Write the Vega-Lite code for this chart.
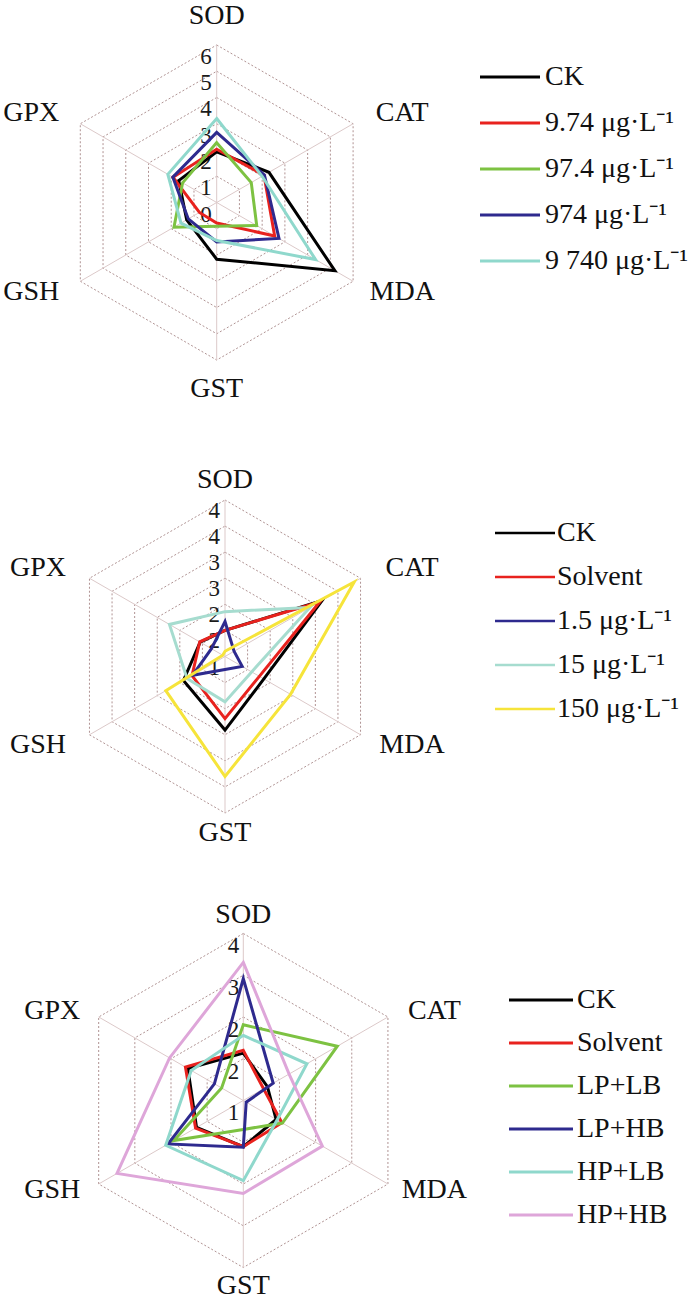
{
 "$schema": "https://vega.github.io/schema/vega-lite/v6.json",
 "background": "white",
 "padding": 0,
 "spacing": 0,
 "bounds": "flush",
 "config": {"view": {"stroke": null}, "font": "Liberation Serif", "text": {"font": "Liberation Serif"}, "legend": {"labelFont": "Liberation Serif"}},
 "datasets": {
  "axes": [{"a": "SOD"}, {"a": "CAT"}, {"a": "MDA"}, {"a": "GST"}, {"a": "GSH"}, {"a": "GPX"}],
  "rings": [
   {"p": "a", "level": 1, "axes": ["SOD","CAT","MDA","GST","GSH","GPX"]},
   {"p": "a", "level": 2, "axes": ["SOD","CAT","MDA","GST","GSH","GPX"]},
   {"p": "a", "level": 3, "axes": ["SOD","CAT","MDA","GST","GSH","GPX"]},
   {"p": "a", "level": 4, "axes": ["SOD","CAT","MDA","GST","GSH","GPX"]},
   {"p": "a", "level": 5, "axes": ["SOD","CAT","MDA","GST","GSH","GPX"]},
   {"p": "a", "level": 6, "axes": ["SOD","CAT","MDA","GST","GSH","GPX"]},
   {"p": "b", "level": 1.5, "axes": ["SOD","CAT","MDA","GST","GSH","GPX"]},
   {"p": "b", "level": 2, "axes": ["SOD","CAT","MDA","GST","GSH","GPX"]},
   {"p": "b", "level": 2.5, "axes": ["SOD","CAT","MDA","GST","GSH","GPX"]},
   {"p": "b", "level": 3, "axes": ["SOD","CAT","MDA","GST","GSH","GPX"]},
   {"p": "b", "level": 3.5, "axes": ["SOD","CAT","MDA","GST","GSH","GPX"]},
   {"p": "b", "level": 4, "axes": ["SOD","CAT","MDA","GST","GSH","GPX"]},
   {"p": "c", "level": 1.75, "axes": ["SOD","CAT","MDA","GST","GSH","GPX"]},
   {"p": "c", "level": 2.5, "axes": ["SOD","CAT","MDA","GST","GSH","GPX"]},
   {"p": "c", "level": 3.25, "axes": ["SOD","CAT","MDA","GST","GSH","GPX"]},
   {"p": "c", "level": 4, "axes": ["SOD","CAT","MDA","GST","GSH","GPX"]}
  ],
  "ticks": [
   {"p": "a", "level": 0, "label": "0"}, {"p": "a", "level": 1, "label": "1"}, {"p": "a", "level": 2, "label": "2"},
   {"p": "a", "level": 3, "label": "3"}, {"p": "a", "level": 4, "label": "4"}, {"p": "a", "level": 5, "label": "5"},
   {"p": "a", "level": 6, "label": "6"},
   {"p": "b", "level": 1, "label": "1"}, {"p": "b", "level": 1.5, "label": "2"}, {"p": "b", "level": 2, "label": "2"},
   {"p": "b", "level": 2.5, "label": "3"}, {"p": "b", "level": 3, "label": "3"}, {"p": "b", "level": 3.5, "label": "4"},
   {"p": "b", "level": 4, "label": "4"},
   {"p": "c", "level": 1, "label": "1"}, {"p": "c", "level": 1.75, "label": "2"}, {"p": "c", "level": 2.5, "label": "2"},
   {"p": "c", "level": 3.25, "label": "3"}, {"p": "c", "level": 4, "label": "4"}
  ],
  "series": [
   {"p": "a", "s": "CK", "a": "SOD", "v": 1.93}, {"p": "a", "s": "CK", "a": "CAT", "v": 2.3}, {"p": "a", "s": "CK", "a": "MDA", "v": 5.2},
   {"p": "a", "s": "CK", "a": "GST", "v": 2.16}, {"p": "a", "s": "CK", "a": "GSH", "v": 1.32}, {"p": "a", "s": "CK", "a": "GPX", "v": 1.67},
   {"p": "a", "s": "9.74 μg·L⁻¹", "a": "SOD", "v": 2.03}, {"p": "a", "s": "9.74 μg·L⁻¹", "a": "CAT", "v": 2.08}, {"p": "a", "s": "9.74 μg·L⁻¹", "a": "MDA", "v": 2.55},
   {"p": "a", "s": "9.74 μg·L⁻¹", "a": "GST", "v": 0.78}, {"p": "a", "s": "9.74 μg·L⁻¹", "a": "GSH", "v": 0.76}, {"p": "a", "s": "9.74 μg·L⁻¹", "a": "GPX", "v": 1.92},
   {"p": "a", "s": "97.4 μg·L⁻¹", "a": "SOD", "v": 2.28}, {"p": "a", "s": "97.4 μg·L⁻¹", "a": "CAT", "v": 1.52}, {"p": "a", "s": "97.4 μg·L⁻¹", "a": "MDA", "v": 1.76},
   {"p": "a", "s": "97.4 μg·L⁻¹", "a": "GST", "v": 0.9}, {"p": "a", "s": "97.4 μg·L⁻¹", "a": "GSH", "v": 1.88}, {"p": "a", "s": "97.4 μg·L⁻¹", "a": "GPX", "v": 1.5},
   {"p": "a", "s": "974 μg·L⁻¹", "a": "SOD", "v": 2.67}, {"p": "a", "s": "974 μg·L⁻¹", "a": "CAT", "v": 2.1}, {"p": "a", "s": "974 μg·L⁻¹", "a": "MDA", "v": 2.74},
   {"p": "a", "s": "974 μg·L⁻¹", "a": "GST", "v": 1.5}, {"p": "a", "s": "974 μg·L⁻¹", "a": "GSH", "v": 1.25}, {"p": "a", "s": "974 μg·L⁻¹", "a": "GPX", "v": 1.93},
   {"p": "a", "s": "9 740 μg·L⁻¹", "a": "SOD", "v": 3.2}, {"p": "a", "s": "9 740 μg·L⁻¹", "a": "CAT", "v": 2.0}, {"p": "a", "s": "9 740 μg·L⁻¹", "a": "MDA", "v": 4.35},
   {"p": "a", "s": "9 740 μg·L⁻¹", "a": "GST", "v": 1.45}, {"p": "a", "s": "9 740 μg·L⁻¹", "a": "GSH", "v": 1.57}, {"p": "a", "s": "9 740 μg·L⁻¹", "a": "GPX", "v": 2.15},

   {"p": "b", "s": "CK", "a": "SOD", "v": 1.5}, {"p": "b", "s": "CK", "a": "CAT", "v": 3.15}, {"p": "b", "s": "CK", "a": "MDA", "v": 1.86},
   {"p": "b", "s": "CK", "a": "GST", "v": 2.41}, {"p": "b", "s": "CK", "a": "GSH", "v": 1.92}, {"p": "b", "s": "CK", "a": "GPX", "v": 1.55},
   {"p": "b", "s": "Solvent", "a": "SOD", "v": 1.5}, {"p": "b", "s": "Solvent", "a": "CAT", "v": 3.1}, {"p": "b", "s": "Solvent", "a": "MDA", "v": 1.76},
   {"p": "b", "s": "Solvent", "a": "GST", "v": 2.19}, {"p": "b", "s": "Solvent", "a": "GSH", "v": 1.73}, {"p": "b", "s": "Solvent", "a": "GPX", "v": 1.56},
   {"p": "b", "s": "1.5 μg·L⁻¹", "a": "SOD", "v": 1.67}, {"p": "b", "s": "1.5 μg·L⁻¹", "a": "CAT", "v": 1.2}, {"p": "b", "s": "1.5 μg·L⁻¹", "a": "MDA", "v": 1.38},
   {"p": "b", "s": "1.5 μg·L⁻¹", "a": "GST", "v": 1.25}, {"p": "b", "s": "1.5 μg·L⁻¹", "a": "GSH", "v": 1.72}, {"p": "b", "s": "1.5 μg·L⁻¹", "a": "GPX", "v": 1.3},
   {"p": "b", "s": "15 μg·L⁻¹", "a": "SOD", "v": 1.86}, {"p": "b", "s": "15 μg·L⁻¹", "a": "CAT", "v": 2.88}, {"p": "b", "s": "15 μg·L⁻¹", "a": "MDA", "v": 1.59},
   {"p": "b", "s": "15 μg·L⁻¹", "a": "GST", "v": 1.87}, {"p": "b", "s": "15 μg·L⁻¹", "a": "GSH", "v": 1.84}, {"p": "b", "s": "15 μg·L⁻¹", "a": "GPX", "v": 2.23},
   {"p": "b", "s": "150 μg·L⁻¹", "a": "SOD", "v": 1.1}, {"p": "b", "s": "150 μg·L⁻¹", "a": "CAT", "v": 3.86}, {"p": "b", "s": "150 μg·L⁻¹", "a": "MDA", "v": 2.45},
   {"p": "b", "s": "150 μg·L⁻¹", "a": "GST", "v": 3.3}, {"p": "b", "s": "150 μg·L⁻¹", "a": "GSH", "v": 2.31}, {"p": "b", "s": "150 μg·L⁻¹", "a": "GPX", "v": 1.05},

   {"p": "c", "s": "CK", "a": "SOD", "v": 1.85}, {"p": "c", "s": "CK", "a": "CAT", "v": 1.5}, {"p": "c", "s": "CK", "a": "MDA", "v": 1.68},
   {"p": "c", "s": "CK", "a": "GST", "v": 1.83}, {"p": "c", "s": "CK", "a": "GSH", "v": 1.97}, {"p": "c", "s": "CK", "a": "GPX", "v": 2.15},
   {"p": "c", "s": "Solvent", "a": "SOD", "v": 1.9}, {"p": "c", "s": "Solvent", "a": "CAT", "v": 1.42}, {"p": "c", "s": "Solvent", "a": "MDA", "v": 1.8},
   {"p": "c", "s": "Solvent", "a": "GST", "v": 1.83}, {"p": "c", "s": "Solvent", "a": "GSH", "v": 1.99}, {"p": "c", "s": "Solvent", "a": "GPX", "v": 2.2},
   {"p": "c", "s": "LP+LB", "a": "SOD", "v": 2.36}, {"p": "c", "s": "LP+LB", "a": "CAT", "v": 2.95}, {"p": "c", "s": "LP+LB", "a": "MDA", "v": 1.81},
   {"p": "c", "s": "LP+LB", "a": "GST", "v": 1.52}, {"p": "c", "s": "LP+LB", "a": "GSH", "v": 2.44}, {"p": "c", "s": "LP+LB", "a": "GPX", "v": 1.45},
   {"p": "c", "s": "LP+HB", "a": "SOD", "v": 3.19}, {"p": "c", "s": "LP+HB", "a": "CAT", "v": 1.62}, {"p": "c", "s": "LP+HB", "a": "MDA", "v": 1.06},
   {"p": "c", "s": "LP+HB", "a": "GST", "v": 1.84}, {"p": "c", "s": "LP+HB", "a": "GSH", "v": 2.56}, {"p": "c", "s": "LP+HB", "a": "GPX", "v": 1.6},
   {"p": "c", "s": "HP+LB", "a": "SOD", "v": 2.17}, {"p": "c", "s": "HP+LB", "a": "CAT", "v": 2.32}, {"p": "c", "s": "HP+LB", "a": "MDA", "v": 1.7},
   {"p": "c", "s": "HP+LB", "a": "GST", "v": 2.44}, {"p": "c", "s": "HP+LB", "a": "GSH", "v": 2.61}, {"p": "c", "s": "HP+LB", "a": "GPX", "v": 2.08},
   {"p": "c", "s": "HP+HB", "a": "SOD", "v": 3.48}, {"p": "c", "s": "HP+HB", "a": "CAT", "v": 1.95}, {"p": "c", "s": "HP+HB", "a": "MDA", "v": 2.64},
   {"p": "c", "s": "HP+HB", "a": "GST", "v": 2.67}, {"p": "c", "s": "HP+HB", "a": "GSH", "v": 3.62}, {"p": "c", "s": "HP+HB", "a": "GPX", "v": 2.53}
  ]
 },
 "resolve": {"scale": {"x": "independent", "y": "independent", "color": "independent"}, "legend": {"color": "independent"}},
 "vconcat": [
  {
   "width": 700, "height": 430,
   "encoding": {
    "x": {"field": "x", "type": "quantitative", "scale": {"domain": [-1.3759, 3.0686], "nice": false, "zero": false}, "axis": null},
    "y": {"field": "y", "type": "quantitative", "scale": {"domain": [-1.4444, 1.2857], "nice": false, "zero": false}, "axis": null}
   },
   "layer": [
    {"data": {"name": "rings"},
     "transform": [{"filter": "datum.p === 'a'"}, {"flatten": ["axes"], "as": ["a"]},
      {"calculate": "indexof(['SOD','CAT','MDA','GST','GSH','GPX'], datum.a)", "as": "idx"},
      {"calculate": "datum.level/6", "as": "r"},
      {"calculate": "datum.r*sin(datum.idx*PI/3)", "as": "x"}, {"calculate": "datum.r*cos(datum.idx*PI/3)", "as": "y"}],
     "mark": {"type": "line", "interpolate": "linear-closed", "stroke": "#b09393", "strokeWidth": 1, "strokeDash": [2, 2]},
     "encoding": {"detail": {"field": "level"}, "order": {"field": "idx"}}},
    {"data": {"name": "axes"},
     "transform": [{"calculate": "indexof(['SOD','CAT','MDA','GST','GSH','GPX'], datum.a)", "as": "idx"},
      {"calculate": "sin(datum.idx*PI/3)", "as": "x"}, {"calculate": "cos(datum.idx*PI/3)", "as": "y"}],
     "mark": {"type": "rule", "stroke": "#dcc9c9", "strokeWidth": 1},
     "encoding": {"x2": {"datum": 0}, "y2": {"datum": 0}}},
    {"data": {"name": "ticks"},
     "transform": [{"filter": "datum.p === 'a'"}, {"calculate": "0", "as": "x"}, {"calculate": "datum.level/6", "as": "y"}],
     "mark": {"type": "text", "font": "Liberation Serif", "align": "right", "baseline": "alphabetic", "dx": -5, "dy": 19, "fontSize": 23, "color": "#1a1a1a"},
     "encoding": {"text": {"field": "label"}}},
    {"data": {"name": "axes"},
     "transform": [{"calculate": "indexof(['SOD','CAT','MDA','GST','GSH','GPX'], datum.a)", "as": "idx"},
      {"calculate": "1.36*sin(datum.idx*PI/3)", "as": "x"},
      {"calculate": "cos(datum.idx*PI/3)*(abs(cos(datum.idx*PI/3)) > 0.9 ? 1.185 : 1.14)", "as": "y"}],
     "mark": {"type": "text", "font": "Liberation Serif", "align": "center", "baseline": "middle", "fontSize": 28, "color": "#111"},
     "encoding": {"text": {"field": "a"}}},
    {"data": {"name": "series"},
     "transform": [{"filter": "datum.p === 'a'"},
      {"calculate": "indexof(['SOD','CAT','MDA','GST','GSH','GPX'], datum.a)", "as": "idx"},
      {"calculate": "datum.v/6", "as": "r"},
      {"calculate": "datum.r*sin(datum.idx*PI/3)", "as": "x"}, {"calculate": "datum.r*cos(datum.idx*PI/3)", "as": "y"}],
     "mark": {"type": "line", "interpolate": "linear-closed", "strokeWidth": 3, "strokeJoin": "miter"},
     "encoding": {
      "order": {"field": "idx"},
      "color": {"field": "s", "type": "nominal",
       "scale": {"domain": ["CK", "9.74 μg·L⁻¹", "97.4 μg·L⁻¹", "974 μg·L⁻¹", "9 740 μg·L⁻¹"], "range": ["#000000", "#e8221e", "#7dc242", "#2e2a8e", "#8fd8cc"]},
       "legend": {"title": null, "orient": "none", "legendX": 496, "legendY": 63, "padding": 0, "symbolType": "M-3,0H3", "symbolSize": 400, "symbolStrokeWidth": 3, "rowPadding": 18, "labelOffset": 21, "labelFont": "Liberation Serif", "labelFontSize": 28, "labelColor": "#111", "labelLimit": 300}}
     }},
    {"data": {"values": [{"t": "(a)"}]},
     "mark": {"type": "text", "font": "Liberation Serif", "align": "center", "baseline": "middle", "fontSize": 27, "color": "#111"},
     "encoding": {"x": {"datum": -1.1537}, "y": {"datum": 1.0952}, "text": {"field": "t"}}}
   ]
  },
  {
   "width": 700, "height": 440,
   "encoding": {
    "x": {"field": "x", "type": "quantitative", "scale": {"domain": [-1.4377, 3.0351], "nice": false, "zero": false}, "axis": null},
    "y": {"field": "y", "type": "quantitative", "scale": {"domain": [-1.3642, 1.4473], "nice": false, "zero": false}, "axis": null}
   },
   "layer": [
    {"data": {"name": "rings"},
     "transform": [{"filter": "datum.p === 'b'"}, {"flatten": ["axes"], "as": ["a"]},
      {"calculate": "indexof(['SOD','CAT','MDA','GST','GSH','GPX'], datum.a)", "as": "idx"},
      {"calculate": "(datum.level-1)/3", "as": "r"},
      {"calculate": "datum.r*sin(datum.idx*PI/3)", "as": "x"}, {"calculate": "datum.r*cos(datum.idx*PI/3)", "as": "y"}],
     "mark": {"type": "line", "interpolate": "linear-closed", "stroke": "#b09393", "strokeWidth": 1, "strokeDash": [2, 2]},
     "encoding": {"detail": {"field": "level"}, "order": {"field": "idx"}}},
    {"data": {"name": "axes"},
     "transform": [{"calculate": "indexof(['SOD','CAT','MDA','GST','GSH','GPX'], datum.a)", "as": "idx"},
      {"calculate": "sin(datum.idx*PI/3)", "as": "x"}, {"calculate": "cos(datum.idx*PI/3)", "as": "y"}],
     "mark": {"type": "rule", "stroke": "#dcc9c9", "strokeWidth": 1},
     "encoding": {"x2": {"datum": 0}, "y2": {"datum": 0}}},
    {"data": {"name": "ticks"},
     "transform": [{"filter": "datum.p === 'b'"}, {"calculate": "0", "as": "x"}, {"calculate": "(datum.level-1)/3", "as": "y"}],
     "mark": {"type": "text", "font": "Liberation Serif", "align": "right", "baseline": "alphabetic", "dx": -5, "dy": 18, "fontSize": 23, "color": "#1a1a1a"},
     "encoding": {"text": {"field": "label"}}},
    {"data": {"name": "axes"},
     "transform": [{"calculate": "indexof(['SOD','CAT','MDA','GST','GSH','GPX'], datum.a)", "as": "idx"},
      {"calculate": "1.38*sin(datum.idx*PI/3)", "as": "x"},
      {"calculate": "cos(datum.idx*PI/3)*(abs(cos(datum.idx*PI/3)) > 0.9 ? 1.128 : 1.136)", "as": "y"}],
     "mark": {"type": "text", "font": "Liberation Serif", "align": "center", "baseline": "middle", "fontSize": 28, "color": "#111"},
     "encoding": {"text": {"field": "a"}}},
    {"data": {"name": "series"},
     "transform": [{"filter": "datum.p === 'b'"},
      {"calculate": "indexof(['SOD','CAT','MDA','GST','GSH','GPX'], datum.a)", "as": "idx"},
      {"calculate": "(datum.v-1)/3", "as": "r"},
      {"calculate": "datum.r*sin(datum.idx*PI/3)", "as": "x"}, {"calculate": "datum.r*cos(datum.idx*PI/3)", "as": "y"}],
     "mark": {"type": "line", "interpolate": "linear-closed", "strokeWidth": 3, "strokeJoin": "miter"},
     "encoding": {
      "order": {"field": "idx"},
      "color": {"field": "s", "type": "nominal",
       "scale": {"domain": ["CK", "Solvent", "1.5 μg·L⁻¹", "15 μg·L⁻¹", "150 μg·L⁻¹"], "range": ["#000000", "#e8221e", "#2e2a8e", "#a6dccf", "#f6e43a"]},
       "legend": {"title": null, "orient": "none", "legendX": 511, "legendY": 89, "padding": 0, "symbolType": "M-3,0H3", "symbolSize": 400, "symbolStrokeWidth": 2.5, "rowPadding": 16, "labelOffset": 18, "labelFont": "Liberation Serif", "labelFontSize": 28, "labelColor": "#111", "labelLimit": 300}}
     }},
    {"data": {"values": [{"t": "(b)"}]},
     "mark": {"type": "text", "font": "Liberation Serif", "align": "center", "baseline": "middle", "fontSize": 27, "color": "#111"},
     "encoding": {"x": {"datum": -1.2013}, "y": {"datum": 1.1214}, "text": {"field": "t"}}}
   ]
  },
  {
   "width": 700, "height": 431,
   "encoding": {
    "x": {"field": "x", "type": "quantitative", "scale": {"domain": [-1.4569, 2.7347], "nice": false, "zero": false}, "axis": null},
    "y": {"field": "y", "type": "quantitative", "scale": {"domain": [-1.2006, 1.3802], "nice": false, "zero": false}, "axis": null}
   },
   "layer": [
    {"data": {"name": "rings"},
     "transform": [{"filter": "datum.p === 'c'"}, {"flatten": ["axes"], "as": ["a"]},
      {"calculate": "indexof(['SOD','CAT','MDA','GST','GSH','GPX'], datum.a)", "as": "idx"},
      {"calculate": "(datum.level-1)/3", "as": "r"},
      {"calculate": "datum.r*sin(datum.idx*PI/3)", "as": "x"}, {"calculate": "datum.r*cos(datum.idx*PI/3)", "as": "y"}],
     "mark": {"type": "line", "interpolate": "linear-closed", "stroke": "#b09393", "strokeWidth": 1, "strokeDash": [2, 2]},
     "encoding": {"detail": {"field": "level"}, "order": {"field": "idx"}}},
    {"data": {"name": "axes"},
     "transform": [{"calculate": "indexof(['SOD','CAT','MDA','GST','GSH','GPX'], datum.a)", "as": "idx"},
      {"calculate": "sin(datum.idx*PI/3)", "as": "x"}, {"calculate": "cos(datum.idx*PI/3)", "as": "y"}],
     "mark": {"type": "rule", "stroke": "#dcc9c9", "strokeWidth": 1},
     "encoding": {"x2": {"datum": 0}, "y2": {"datum": 0}}},
    {"data": {"name": "ticks"},
     "transform": [{"filter": "datum.p === 'c'"}, {"calculate": "0", "as": "x"}, {"calculate": "(datum.level-1)/3", "as": "y"}],
     "mark": {"type": "text", "font": "Liberation Serif", "align": "right", "baseline": "alphabetic", "dx": -4, "dy": 20, "fontSize": 23, "color": "#1a1a1a"},
     "encoding": {"text": {"field": "label"}}},
    {"data": {"name": "axes"},
     "transform": [{"calculate": "indexof(['SOD','CAT','MDA','GST','GSH','GPX'], datum.a)", "as": "idx"},
      {"calculate": "1.321*sin(datum.idx*PI/3)", "as": "x"},
      {"calculate": "cos(datum.idx*PI/3)*(abs(cos(datum.idx*PI/3)) > 0.9 ? 1.11 : 1.066)", "as": "y"}],
     "mark": {"type": "text", "font": "Liberation Serif", "align": "center", "baseline": "middle", "fontSize": 28, "color": "#111"},
     "encoding": {"text": {"field": "a"}}},
    {"data": {"name": "series"},
     "transform": [{"filter": "datum.p === 'c'"},
      {"calculate": "indexof(['SOD','CAT','MDA','GST','GSH','GPX'], datum.a)", "as": "idx"},
      {"calculate": "(datum.v-1)/3", "as": "r"},
      {"calculate": "datum.r*sin(datum.idx*PI/3)", "as": "x"}, {"calculate": "datum.r*cos(datum.idx*PI/3)", "as": "y"}],
     "mark": {"type": "line", "interpolate": "linear-closed", "strokeWidth": 3, "strokeJoin": "miter"},
     "encoding": {
      "order": {"field": "idx"},
      "color": {"field": "s", "type": "nominal",
       "scale": {"domain": ["CK", "Solvent", "LP+LB", "LP+HB", "HP+LB", "HP+HB"], "range": ["#000000", "#e8221e", "#7dc242", "#2e2a8e", "#8fd8cc", "#dea6d9"]},
       "legend": {"title": null, "orient": "none", "legendX": 527, "legendY": 116, "padding": 0, "symbolType": "M-3,0H3", "symbolSize": 455, "symbolStrokeWidth": 3, "rowPadding": 15, "labelOffset": 22, "labelFont": "Liberation Serif", "labelFontSize": 28, "labelColor": "#111", "labelLimit": 300}}
     }},
    {"data": {"values": [{"t": "(c)"}]},
     "mark": {"type": "text", "font": "Liberation Serif", "align": "center", "baseline": "middle", "fontSize": 27, "color": "#111"},
     "encoding": {"x": {"datum": -1.1455}, "y": {"datum": 1.015}, "text": {"field": "t"}}}
   ]
  }
 ]
}
